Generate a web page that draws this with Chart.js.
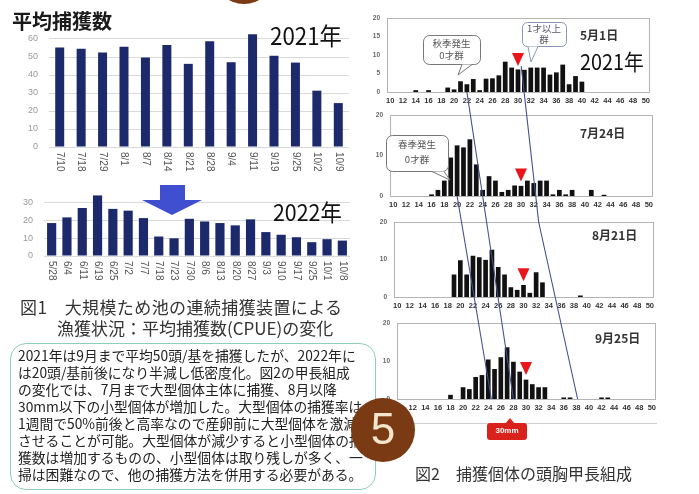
<!DOCTYPE html>
<html><head><meta charset="utf-8">
<script src="https://cdn.jsdelivr.net/npm/chart.js@4"></script>
<style>
html,body{margin:0;padding:0;background:#fff;}
body{width:699px;height:494px;position:relative;overflow:hidden;font-family:"Noto Sans CJK JP","Noto Sans",sans-serif;}
.cv{position:absolute;}
canvas{display:block;}
.t{position:absolute;white-space:nowrap;line-height:1;color:#222;z-index:6;}
#overlay{position:absolute;left:0;top:0;z-index:5;pointer-events:none;}
</style></head><body>

<div class="cv" style="left:0;top:0;width:360px;height:200px"><canvas id="c2021" width="360" height="200"></canvas></div>
<div class="cv" style="left:0;top:185px;width:360px;height:115px"><canvas id="c2022" width="360" height="115"></canvas></div>
<div class="cv" style="left:360px;top:0;width:339px;height:112px"><canvas id="h1" width="339" height="112"></canvas></div>
<div class="cv" style="left:360px;top:100px;width:339px;height:112px"><canvas id="h2" width="339" height="112"></canvas></div>
<div class="cv" style="left:360px;top:208px;width:339px;height:110px"><canvas id="h3" width="339" height="110"></canvas></div>
<div class="cv" style="left:360px;top:310px;width:339px;height:110px"><canvas id="h4" width="339" height="110"></canvas></div>
<canvas id="overlay" width="699" height="494"></canvas>

<!-- left texts -->
<div class="t" style="left:12px;top:11px;font-size:20px;font-weight:bold;color:#1a1a1a">平均捕獲数</div>
<div class="t" style="left:270px;top:23px;font-size:24px;transform:scaleX(0.93);transform-origin:left;color:#111">2021年</div>
<div class="t" style="left:273px;top:200px;font-size:23px;transform:scaleX(0.93);transform-origin:left;color:#111">2022年</div>
<div class="t" style="left:20px;top:298px;font-size:17px;letter-spacing:0.4px;color:#333">図1　大規模ため池の連続捕獲装置による</div>
<div class="t" style="left:57px;top:319px;font-size:17px;color:#333">漁獲状況：平均捕獲数(CPUE)の変化</div>

<div style="position:absolute;left:10px;top:343px;width:364px;height:145px;border:1.5px solid #8fcdbb;border-radius:16px;z-index:4"></div>
<div id="para"></div>

<div style="position:absolute;left:351px;top:398px;width:64px;height:64px;border-radius:50%;background:#7a3a14;z-index:7"></div>
<div class="t" style="left:351px;top:407px;width:64px;text-align:center;font-size:44px;color:#f4e6cc;z-index:8;font-family:'Liberation Sans',sans-serif">5</div>
<div style="position:absolute;left:214px;top:-56px;width:60px;height:60px;border-radius:50%;background:#7a3a14;z-index:7"></div>

<!-- right texts -->
<div class="t" style="left:580px;top:29px;font-size:12px;font-weight:bold;color:#333">5月1日</div>
<div class="t" style="left:580px;top:49px;font-size:22px;transform:scaleX(0.9);transform-origin:left;color:#111">2021年</div>
<div class="t" style="left:580px;top:127px;font-size:12px;font-weight:bold;color:#333">7月24日</div>
<div class="t" style="left:592px;top:229px;font-size:12px;font-weight:bold;color:#333">8月21日</div>
<div class="t" style="left:595px;top:332px;font-size:12px;font-weight:bold;color:#333">9月25日</div>
<div class="t" style="left:415px;top:465px;font-size:16px;color:#333">図2　捕獲個体の頭胸甲長組成</div>

<div class="t" style="left:423px;top:39px;width:57px;text-align:center;font-size:9.5px;color:#555">秋季発生</div>
<div class="t" style="left:423px;top:51px;width:57px;text-align:center;font-size:9.5px;color:#555">0才群</div>
<div class="t" style="left:522px;top:24px;width:44px;text-align:center;font-size:9.5px;color:#556">1才以上</div>
<div class="t" style="left:522px;top:35px;width:44px;text-align:center;font-size:9.5px;color:#556">群</div>
<div class="t" style="left:386px;top:140px;width:62px;text-align:center;font-size:9.5px;color:#555">春季発生</div>
<div class="t" style="left:386px;top:155px;width:62px;text-align:center;font-size:9.5px;color:#555">0才群</div>
<div class="t" style="left:487px;top:427px;width:40px;text-align:center;font-size:8px;font-weight:bold;color:#fff;font-family:'Liberation Sans',sans-serif">30mm</div>

<script>
// ---------- data ----------
const cpueDates2021 = ['7/10','7/18','7/29','8/1','8/7','8/14','8/21','8/28','9/4','9/11','9/19','9/25','10/2','10/9'];
const cpue2021 = [55.3, 54.6, 52.5, 55.7, 49.7, 56.6, 46.2, 58.7, 47.1, 62.6, 50.7, 46.9, 31.3, 24.4];
const cpueDates2022 = ['5/28','6/4','6/11','6/19','6/25','7/2','7/7','7/18','7/23','7/30','8/6','8/13','8/20','8/27','9/3','9/10','9/17','9/25','10/1','10/8'];
const cpue2022 = [18.6, 21.8, 27.1, 34.2, 26.6, 25.6, 21.4, 11.0, 10.0, 21.0, 19.5, 18.6, 17.3, 20.7, 13.5, 12.0, 10.6, 7.8, 9.5, 8.7];

const lengthBins = [10,11,12,13,14,15,16,17,18,19,20,21,22,23,24,25,26,27,28,29,30,31,32,33,34,35,36,37,38,39,40,41,42,43,44,45,46,47,48,49,50];
const countMay1  = [0,0,0,0,0.5,0,0.5,0,0,1.2, 0.7,2.9,2.1,3.5,0.5,3.6,3.7,4.5,8.2,6.6, 6.1,6.0,6.6,6.6,6.6,4.7,5.3,7.4,2.1,4.3, 2.8,0,0,0,0,0,0,0,0,0,0];
const countJul24 = [0,0,0,0,0,0,0.4,1.5,3.8,9.5, 12.5,12,14,7.8,1.5,4.9,3.8,1,1.5,2.6, 2.5,3.8,3.2,3.8,3.8,0.4,1.5,0.4,1.5,0, 0,1.5,0,0.3,0,0,0,0,0,0,0];
const countAug21 = [0,0,0,0,0,0,0,0,0,6, 9.8,6,11,10.6,9.9,12.6,8,6,2.6,1.9, 3.2,1.1,6.6,3.9,0,0,0,0,0,0.4, 0,0,0,0,0,0,0,0,0,0,0];
const countSep25 = [0,0,0,0,0,0,0,0,1.1,0, 3.1,2.6,5.8,6.3,10.4,7.9,11,13.6,9.8,7.2, 5.1,3.9,3.1,3.1,0,0,0.4,0.4,0,0, 0,0,0.4,0.4,0,0,0,0,0,0,0];
const yTicksLeft2021 = [0,10,20,30,40,50,60];
const markerLength = 30;
const markerTips = [7.0, 3.6, 4.2, 6.3];
// cohort tracking lines (panel, length mm, count)
const cohortSpring0 = [{p:1,mm:20,n:0},{p:3,mm:24.5,n:0}];
const cohortAutumn0 = [{p:0,mm:22,n:0},{p:3,mm:28,n:0}];
const cohortAge1    = [{p:0,mm:30.5,n:7},{p:2,mm:32.4,n:20},{p:3,mm:38.2,n:0}];
const paragraph = [
 '2021年は9月まで平均50頭/基を捕獲したが、2022年に',
 'は20頭/基前後になり半減し低密度化。図2の甲長組成',
 'の変化では、7月まで大型個体主体に捕獲、8月以降',
 '30mm以下の小型個体が増加した。大型個体の捕獲率は',
 '1週間で50%前後と高率なので産卵前に大型個体を激減',
 'させることが可能。大型個体が減少すると小型個体の捕',
 '獲数は増加するものの、小型個体は取り残しが多く、一',
 '掃は困難なので、他の捕獲方法を併用する必要がある。'
];

// paragraph
const para = document.getElementById('para');
paragraph.forEach((s,i)=>{
  const d=document.createElement('div'); d.className='t';
  d.style.cssText='left:18px;top:'+(349+17*i)+'px;font-size:13.8px;color:#222;z-index:5';
  d.textContent=s; para.appendChild(d);
});

Chart.defaults.font.family = "'Liberation Sans','DejaVu Sans',sans-serif";

const rotLabels = {id:'rotLabels', afterDraw(chart, args, o){
  if(!o || !o.on) return;
  const xs = chart.scales.x, ctx = chart.ctx;
  ctx.save(); ctx.font = o.font; ctx.fillStyle = o.color; ctx.textAlign='left'; ctx.textBaseline='middle';
  chart.data.labels.forEach((l,i)=>{ const x = xs.getPixelForValue(i); ctx.save(); ctx.translate(x, xs.top + o.pad); ctx.rotate(Math.PI/2); ctx.fillText(l,0,0); ctx.restore(); });
  ctx.restore();
}};
const framePlugin = {id:'frame', beforeDatasetsDraw(chart, args, o){
  if(!o || !o.on) return;
  const a = chart.chartArea, ctx = chart.ctx; ctx.save(); ctx.strokeStyle=o.color; ctx.lineWidth=1;
  ctx.strokeRect(Math.round(a.left)+0.5, Math.round(a.top)+0.5, Math.round(a.right-a.left), Math.round(a.bottom-a.top)); ctx.restore();
}};
const markerPlugin = {id:'marker', afterDatasetsDraw(chart, args, o){
  if(!o || o.tip===undefined) return;
  const x = chart.scales.x.getPixelForValue(lengthBins.indexOf(markerLength));
  const y = chart.scales.y.getPixelForValue(o.tip);
  const ctx = chart.ctx; ctx.save(); ctx.fillStyle='#e8161b';
  ctx.beginPath(); ctx.moveTo(x, y); ctx.lineTo(x-o.w/2, y-o.h); ctx.lineTo(x+o.w/2, y-o.h); ctx.closePath(); ctx.fill(); ctx.restore();
}};

function cpueChart(id, labels, data, box, area, ymax, barPct){
  return new Chart(document.getElementById(id), {
    type:'bar',
    data:{labels, datasets:[{data, backgroundColor:'#1c2a6c', barPercentage:barPct, categoryPercentage:1}]},
    options:{animation:false, responsive:false,
      layout:{padding:{top:area.top-box.top, right:box.left+box.w-area.right, left:0, bottom:0}},
      plugins:{legend:{display:false}, tooltip:{enabled:false}, rotLabels:{on:true, font:"10px 'Liberation Sans',sans-serif", color:'#555', pad:5}},
      scales:{
        x:{grid:{display:false, drawTicks:false}, border:{display:false}, ticks:{display:false},
           afterFit:s=>{s.height = box.top+box.h-area.bottom; s.paddingLeft=0; s.paddingRight=0;}},
        y:{min:0, max:ymax, grid:{color:'#dadada', drawTicks:false}, border:{display:false},
           ticks:{stepSize:10, includeBounds:false, padding:11, color:'#999', font:{size:9}},
           afterFit:s=>{s.width = area.left-box.left; s.paddingTop=0; s.paddingBottom=0;}}
      }},
    plugins:[rotLabels]
  });
}
cpueChart('c2021', cpueDates2021, cpue2021, {left:0,top:0,w:360,h:200}, {left:49,right:349,top:30,bottom:147}, 65, 0.42);
cpueChart('c2022', cpueDates2022, cpue2022, {left:0,top:185,w:360,h:115}, {left:44,right:350,top:194,bottom:256}, 35, 0.6);

function hist(id, data, box, area, step, tip){
  return new Chart(document.getElementById(id), {
    type:'bar',
    data:{labels:lengthBins, datasets:[{data, backgroundColor:'#111', barPercentage:0.74, categoryPercentage:1}]},
    options:{animation:false, responsive:false,
      layout:{padding:{top:area.top-box.top, right:box.left+box.w-area.right, left:0, bottom:0}},
      plugins:{legend:{display:false}, tooltip:{enabled:false}, frame:{on:true,color:'#b4b4b4'}, marker:{tip, w:12, h:13}},
      scales:{
        x:{grid:{display:false, drawTicks:false}, border:{display:false},
           ticks:{autoSkip:false, maxRotation:0, minRotation:0, padding:4, color:'#333', font:{size:7.5, weight:'bold'},
                  callback:(v,i)=> i%2===0 ? String(lengthBins[i]) : ''},
           afterFit:s=>{s.height = box.top+box.h-area.bottom; s.paddingLeft=0; s.paddingRight=0;}},
        y:{min:0, max:20, grid:{display:false, drawTicks:false}, border:{display:false},
           ticks:{stepSize:step, padding:7, color:'#666', font:{size:6.5, weight:'bold'}},
           afterFit:s=>{s.width = area.left-box.left; s.paddingTop=0; s.paddingBottom=0;}}
      }},
    plugins:[framePlugin, markerPlugin]
  });
}
const hcharts = [
  hist('h1', countMay1,  {left:360,top:0,w:339,h:112},   {left:387,right:649,top:18,bottom:92}, 5, markerTips[0]),
  hist('h2', countJul24, {left:360,top:100,w:339,h:112}, {left:390,right:652,top:115,bottom:196}, 10, markerTips[1]),
  hist('h3', countAug21, {left:360,top:208,w:339,h:110}, {left:394,right:653,top:222,bottom:297}, 10, markerTips[2]),
  hist('h4', countSep25, {left:360,top:310,w:339,h:110}, {left:397,right:655,top:323,bottom:399}, 10, markerTips[3])
];

// ---------- overlay ----------
const ov = document.getElementById('overlay').getContext('2d');
function toPage(pt){
  const c = hcharts[pt.p]; const r = c.canvas.getBoundingClientRect();
  return [r.left + c.scales.x.getPixelForValue(pt.mm - lengthBins[0]), r.top + c.scales.y.getPixelForValue(pt.n)];
}
ov.strokeStyle = '#44518f'; ov.lineWidth = 1.1;
[cohortSpring0, cohortAutumn0, cohortAge1].forEach(line=>{
  ov.beginPath(); line.forEach((pt,i)=>{ const [x,y]=toPage(pt); if(i===0) ov.moveTo(x,y); else ov.lineTo(x,y); }); ov.stroke();
});
// blue arrow
ov.fillStyle = '#3f4fcf';
ov.beginPath(); ov.moveTo(160,185); ov.lineTo(185,185); ov.lineTo(185,200); ov.lineTo(202,200); ov.lineTo(172,215); ov.lineTo(142,200); ov.lineTo(160,200); ov.closePath(); ov.fill();
// speech bubbles
function bubble(x,y,w,h,r,tail,color){
  ov.save(); ov.fillStyle='#fff'; ov.strokeStyle=color; ov.lineWidth=1;
  ov.beginPath(); ov.roundRect(x+0.5,y+0.5,w,h,r); ov.fill(); ov.stroke();
  ov.beginPath(); ov.moveTo(tail[0],y+h+0.5); ov.lineTo(tail[2],tail[3]); ov.lineTo(tail[1],y+h+0.5); ov.closePath(); ov.fill();
  ov.beginPath(); ov.moveTo(tail[0],y+h+0.5); ov.lineTo(tail[2],tail[3]); ov.lineTo(tail[1],y+h+0.5); ov.stroke();
  ov.restore();
}
bubble(423,35,57,29,6,[462,472,458,75],'#777');
bubble(522,22,44,24,5,[528,538,531,62],'#8a97b8');
bubble(386,135,62,36,6,[432,444,450,180],'#777');
// 30mm label
ov.strokeStyle='#d0d0d0'; ov.lineWidth=1; ov.beginPath(); ov.moveTo(395,423.5); ov.lineTo(657,423.5); ov.stroke();
ov.fillStyle='#d9221c'; ov.beginPath(); ov.roundRect(487,423,40,17,3); ov.fill();
ov.beginPath(); ov.moveTo(505,424); ov.lineTo(510,418); ov.lineTo(515,424); ov.closePath(); ov.fill();
</script>
</body></html>
